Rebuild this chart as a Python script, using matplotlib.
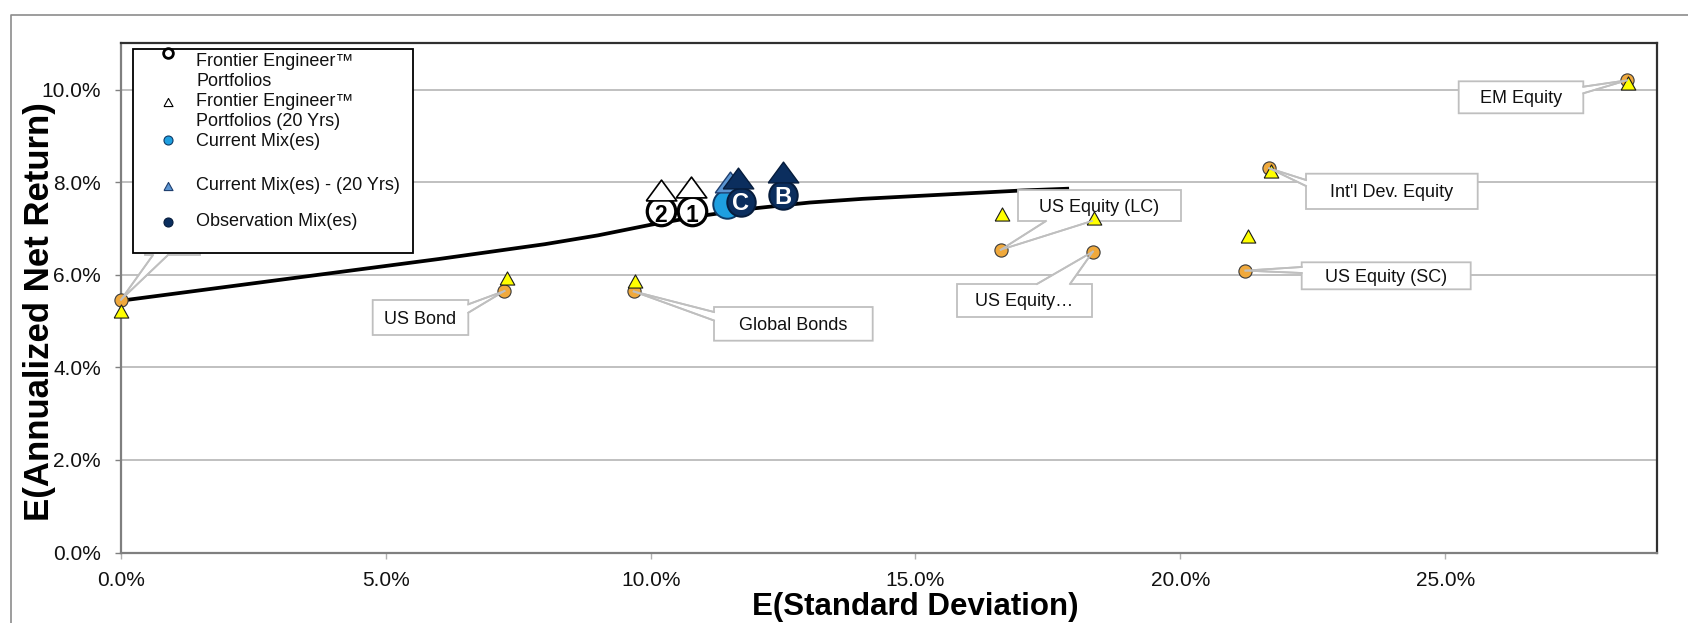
import matplotlib
matplotlib.use("Agg")
import matplotlib.pyplot as plt
from matplotlib.patches import Polygon, Rectangle

plt.rcParams['font.family'] = ['Liberation Sans', 'DejaVu Sans']

# ---------------- data ----------------
asset_labels = ["", "US Bond", "Global Bonds", "US Equity (LC)", "US Equity\u2026",
                "US Equity (SC)", "Int'l Dev. Equity", "EM Equity"]
asset_risk = [0.0, 7.24, 9.68, 16.61, 18.35, 21.23, 21.68, 28.43]
asset_return = [5.46, 5.65, 5.64, 6.54, 6.50, 6.09, 8.30, 10.20]
asset_risk_20y = [0.0, 7.28, 9.71, 16.64, 18.37, 21.27, 21.71, 28.45]
asset_return_20y = [5.22, 5.93, 5.86, 7.31, 7.22, 6.84, 8.25, 10.14]

frontier_risk = [0, 2, 4, 6, 8, 9, 10, 11, 12, 13, 14, 15, 16, 17, 17.9]
frontier_return = [5.44, 5.74, 6.04, 6.34, 6.66, 6.85, 7.08, 7.28, 7.44, 7.56, 7.64, 7.70, 7.76, 7.82, 7.86]

fe_labels = ["2", "1"]
fe_risk = [10.19, 10.78]
fe_return = [7.38, 7.38]
fe_risk_20y = [10.20, 10.77]
fe_return_20y = [7.84, 7.90]

current_risk = [11.45]
current_return = [7.52]
current_risk_20y = [11.50]
current_return_20y = [8.01]

obs_labels = ["C", "B"]
obs_risk = [11.70, 12.49]
obs_return = [7.58, 7.72]
obs_risk_20y = [11.65, 12.49]
obs_return_20y = [8.09, 8.21]

x_ticks = [0, 5, 10, 15, 20, 25]
x_tick_labels = ["0.0%", "5.0%", "10.0%", "15.0%", "20.0%", "25.0%"]
y_ticks = [0, 2, 4, 6, 8, 10]
y_tick_labels = ["0.0%", "2.0%", "4.0%", "6.0%", "8.0%", "10.0%"]

legend_labels = ["Frontier Engineer\u2122\nPortfolios", "Frontier Engineer\u2122\nPortfolios (20 Yrs)",
                 "Current Mix(es)", "Current Mix(es) - (20 Yrs)", "Observation Mix(es)"]

# ---------------- layout ----------------
W, H = 1688, 623
fig = plt.figure(figsize=(W / 100, H / 100), dpi=100)
AX_L, AX_R, AX_T, AX_B = 121, 1657, 43.3, 552.5
ax = fig.add_axes([AX_L / W, 1 - AX_B / H, (AX_R - AX_L) / W, (AX_B - AX_T) / H])
ax.set_xlim(0, 29)
ax.set_ylim(0, 11)

def pf(px, py):
    return (px / W, 1 - py / H)

def d2f(x, y):
    return fig.transFigure.inverted().transform(ax.transData.transform((x, y)))

# colours
ORANGE = '#F0A93C'
YELLOW = '#FFFF00'
LBLUE = '#1E9FE0'
LBLUE_T = '#5B95D2'
NAVY = '#0B2E5E'
GRID = '#B5B5B5'
CALLOUT = '#BFBFBF'

# axes styling
ax.set_xticks(x_ticks)
ax.set_xticklabels(x_tick_labels)
ax.set_yticks(y_ticks)
ax.set_yticklabels(y_tick_labels)
ax.tick_params(axis='y', length=4.5, width=1, color='#808080', pad=10, labelsize=15, labelcolor='#111111')
ax.tick_params(axis='x', length=4.5, width=1, color='#B0B0B0', pad=9, labelsize=15, labelcolor='#111111')
ax.yaxis.grid(True, color=GRID, lw=1.2, zorder=0.5)
ax.set_axisbelow(True)
for s in ['left', 'bottom']:
    ax.spines[s].set_color('#7F7F7F')
    ax.spines[s].set_linewidth(1.6)
for s in ['top', 'right']:
    ax.spines[s].set_color('#303030')
    ax.spines[s].set_linewidth(1.6)

# figure border
ax.plot([pf(11, 623)[0], pf(11, 15)[0], pf(1688, 15)[0]],
        [pf(11, 623)[1], pf(11, 15)[1], pf(1688, 15)[1]],
        color='#8C8C8C', lw=1.2, transform=fig.transFigure, clip_on=False, zorder=0)

# axis titles
fig.text(915 / W, 1 - 607 / H, "E(Standard Deviation)", ha='center', va='center',
         fontsize=22.5, fontweight='bold', color='black')
fig.text(40 / W, 1 - 312 / H, "E(Annualized Net Return)", ha='center', va='center',
         rotation=90, fontsize=25, fontweight='bold', color='black')

# frontier line
ax.plot(frontier_risk, frontier_return, color='black', lw=2.7, zorder=2, solid_capstyle='butt')

# callout boxes (layout in pixel coords): x0, y0, x1, y1, side, b1, b2
callouts = [
    (145, 222, 200, 255, 'bottom', 153, 168),
    (372.7, 300, 468.3, 335, 'right', 304.3, 312.7),
    (714, 307, 872.7, 340.7, 'left', 312, 320.5),
    (1018, 190, 1181, 221, 'bottom', 1046, 1092),
    (957, 284, 1092, 317, 'top', 1037, 1070),
    (1301.7, 262.3, 1470.7, 289.3, 'left', 267, 273),
    (1306, 173.7, 1477.7, 209, 'left', 180, 186),
    (1458.7, 81.3, 1583.3, 113.3, 'right', 86.7, 93.3),
]

for lab, rx, ry, (x0, y0, x1, y1, side, b1, b2) in zip(asset_labels, asset_risk, asset_return, callouts):
    tip = d2f(rx, ry)
    TL, TR, BR, BL = pf(x0, y0), pf(x1, y0), pf(x1, y1), pf(x0, y1)
    if side == 'top':
        p1, p2 = pf(b1, y0), pf(b2, y0)
        verts = [TL, p1, tip, p2, TR, BR, BL]
    elif side == 'right':
        p1, p2 = pf(x1, b1), pf(x1, b2)
        verts = [TL, TR, p1, tip, p2, BR, BL]
    elif side == 'bottom':
        p1, p2 = pf(b2, y1), pf(b1, y1)
        verts = [TL, TR, BR, p1, tip, p2, BL]
    else:
        p1, p2 = pf(x0, b2), pf(x0, b1)
        verts = [TL, TR, BR, BL, p1, tip, p2]
    poly = Polygon(verts, closed=True, fc='white', ec=CALLOUT, lw=1.3,
                   transform=fig.transFigure, clip_on=False, zorder=3)
    ax.add_patch(poly)
    for p in (p1, p2):
        ax.plot([p[0], tip[0]], [p[1], tip[1]], color=CALLOUT, lw=1.3,
                transform=fig.transFigure, clip_on=False, zorder=6)
    cx, cy = pf((x0 + x1) / 2, (y0 + y1) / 2 + 1.5)
    ax.text(cx, cy, lab, ha='center', va='center', fontsize=13, color='#111111',
            transform=fig.transFigure, zorder=3.5)

# asset markers
tri_std = [(-1, -0.9), (1, -0.9), (0, 0.9), (-1, -0.9)]
tri_wide = [(-1, -0.68), (1, -0.68), (0, 0.68), (-1, -0.68)]
ax.plot(asset_risk, asset_return, 'o', ls='none', ms=9.5, mfc=ORANGE, mec='#3A3A3A', mew=0.8,
        zorder=4, clip_on=False)
ax.plot(asset_risk_20y, asset_return_20y, marker=tri_std, ls='none', ms=10.5, mfc=YELLOW,
        mec='#1A1A1A', mew=0.8, zorder=5, clip_on=False)

# portfolio droplets
CIRC_MS, TRI_MS = 20.5, 22
ax.plot(fe_risk, fe_return, 'o', ls='none', ms=CIRC_MS, mfc='white', mec='black', mew=2.3, zorder=7)
ax.plot(fe_risk_20y, fe_return_20y, marker=tri_wide, ls='none', ms=TRI_MS, mfc='white', mec='black',
        mew=1.2, zorder=8)
ax.plot(current_risk, current_return, 'o', ls='none', ms=CIRC_MS, mfc=LBLUE, mec='#0D3A66', mew=1.4, zorder=9)
ax.plot(current_risk_20y, current_return_20y, marker=tri_wide, ls='none', ms=TRI_MS, mfc=LBLUE_T,
        mec='#1F3F6F', mew=1.0, zorder=10)
ax.plot(obs_risk, obs_return, 'o', ls='none', ms=CIRC_MS, mfc=NAVY, mec='#061C3C', mew=1.4, zorder=11)
ax.plot(obs_risk_20y, obs_return_20y, marker=tri_wide, ls='none', ms=TRI_MS, mfc=NAVY, mec='#061C3C',
        mew=1.0, zorder=12)
for lab, x, y in zip(fe_labels, fe_risk, fe_return):
    ax.annotate(lab, (x, y), xytext=(0, -3), textcoords='offset points', ha='center', va='center',
                fontsize=16.5, fontweight='bold', color='black', zorder=13)
for lab, x, y in zip(obs_labels, obs_risk, obs_return):
    ax.annotate(lab, (x, y), xytext=(0, -1.5), textcoords='offset points', ha='center', va='center',
                fontsize=17, fontweight='bold', color='white', zorder=13)

# legend (manual)
leg = Rectangle(pf(132.7, 252.7), (413 - 132.7) / W, (252.7 - 49) / H, fc='white', ec='black',
                lw=1.3, transform=fig.transFigure, clip_on=False, zorder=20)
ax.add_patch(leg)
leg_marker_y = [53, 102, 140, 186, 222]
leg_styles = [
    dict(marker='o', ms=7, mfc='white', mec='black', mew=2.0),
    dict(marker=tri_std, ms=6.5, mfc='white', mec='black', mew=0.8),
    dict(marker='o', ms=6.5, mfc=LBLUE, mec='#0D3A66', mew=0.8),
    dict(marker=tri_std, ms=6.5, mfc=LBLUE_T, mec='#1F3F6F', mew=0.8),
    dict(marker='o', ms=6.5, mfc=NAVY, mec='#061C3C', mew=0.8),
]
leg_text_y = [61, 101, 141.5, 185.7, 221.7]
for lab, my, ty, st in zip(legend_labels, leg_marker_y, leg_text_y, leg_styles):
    mx, myf = pf(168, my)
    ax.plot([mx], [myf], ls='none', transform=fig.transFigure, clip_on=False, zorder=21, **st)
    for k, line in enumerate(lab.split("\n")):
        tx, tyf = pf(196, ty + 21 * k)
        ax.text(tx, tyf, line, ha='left', va='center', fontsize=13, color='#111111',
                transform=fig.transFigure, zorder=21)

fig.savefig("out.png", dpi=100)
